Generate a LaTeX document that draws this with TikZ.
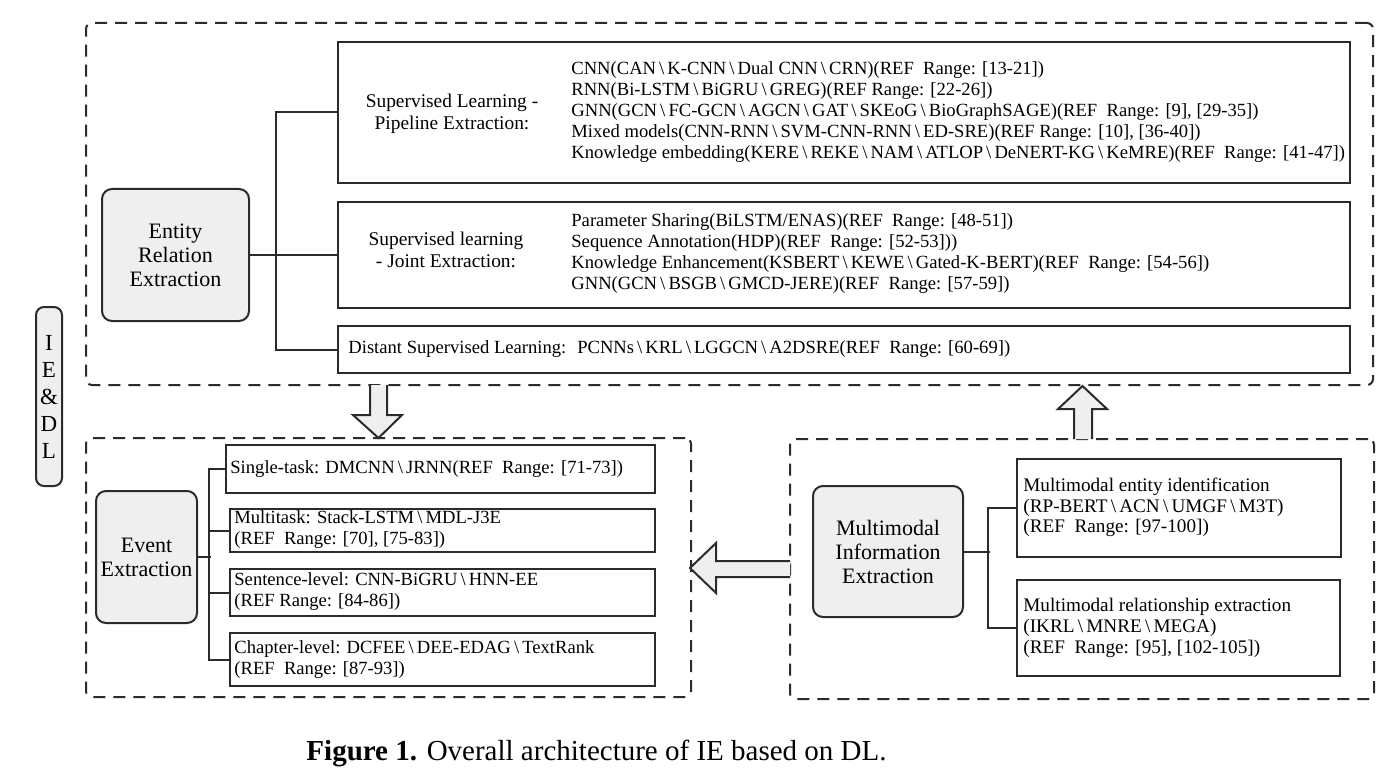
\documentclass[tikz,border=0pt]{standalone}
\usepackage{fontspec}
\setmainfont{Liberation Serif}

\definecolor{boxfill}{HTML}{EFEFEF}
\definecolor{linecol}{HTML}{2B2B2B}

\tikzstyle{group} = [draw=linecol, line width=1pt, dash pattern=on 6pt off 4pt, rounded corners=3pt, inner sep=0pt]
\tikzstyle{topic} = [draw=linecol, fill=boxfill, line width=1pt, rounded corners=5pt, align=center, inner sep=0pt, font=\fontsize{11}{12}\selectfont]
\tikzstyle{leaf} = [draw=linecol, line width=1pt, inner sep=0pt]
\tikzstyle{items} = [align=left, anchor=west, inner sep=0pt, font=\fontsize{9.3}{10.5}\selectfont]
\tikzstyle{mmitems} = [items, font=\fontsize{9.6}{10.4}\selectfont]
\tikzstyle{lbl} = [align=center, inner sep=0pt, font=\fontsize{9.7}{11}\selectfont]
\tikzstyle{link} = [draw=linecol, line width=1pt]
\tikzstyle{hollow} = [draw=linecol, fill=boxfill, line width=1pt]

\newcommand{\bs}{\,\textbackslash\,}

\begin{document}
\begin{tikzpicture}[x=0.5pt, y=-0.5pt]
\useasboundingbox (0,0) rectangle (1383,781);

% relation extraction part
\node[group, minimum width=643.5pt, minimum height=181pt] (reg) at (729.5,204) {};
\node[topic, minimum width=73.5pt, minimum height=66pt] (ere) at (175.5,255) {Entity\\Relation\\Extraction};
\node[leaf, minimum width=506pt, minimum height=70.5pt] (pipe) at (844,112.5) {};
\node[leaf, minimum width=506pt, minimum height=53pt] (joint) at (844,255) {};
\node[leaf, minimum width=506pt, minimum height=23.5pt] (dist) at (844,349.5) {};
\node[lbl] (pipelbl) at (452,114) {Supervised Learning -\\Pipeline Extraction:};
\node[items] (pipetxt) at (571,112.5) {CNN(CAN\bs K-CNN\bs Dual CNN\bs CRN)(REF~ Range: [13-21])\\
    RNN(Bi-LSTM\bs BiGRU\bs GREG)(REF Range: [22-26])\\
    GNN(GCN\bs FC-GCN\bs AGCN\bs GAT\bs SKEoG\bs BioGraphSAGE)(REF~ Range: [9], [29-35])\\
    Mixed models(CNN-RNN\bs SVM-CNN-RNN\bs ED-SRE)(REF Range: [10], [36-40])\\
    Knowledge embedding(KERE\bs REKE\bs NAM\bs ATLOP\bs DeNERT-KG\bs KeMRE)(REF~ Range: [41-47])};
\node[lbl] (jointlbl) at (446,249.5) {Supervised learning\\- Joint Extraction:};
\node[items] (jointtxt) at (571,253.5) {Parameter Sharing(BiLSTM/ENAS)(REF~ Range: [48-51])\\
    Sequence Annotation(HDP)(REF~ Range: [52-53]))\\
    Knowledge Enhancement(KSBERT\bs KEWE\bs Gated-K-BERT)(REF~ Range: [54-56])\\
    GNN(GCN\bs BSGB\bs GMCD-JERE)(REF~ Range: [57-59])};
\node[items] (disttxt) at (348,349) {Distant Supervised Learning:~ PCNNs\bs KRL\bs LGGCN\bs A2DSRE(REF~ Range: [60-69])};
\draw[link] (ere.east) -- (joint.west);
\draw[link] (pipe.west) -- ++(-61,0) |- (dist.west);

% side label
\node[topic, minimum width=13pt, minimum height=89.5pt, rounded corners=4pt, font=\fontsize{11.5}{13.5}\selectfont] (iedl) at (49,396.5) {I\\E\\\&\\D\\L};

% event extraction part
\node[group, minimum width=302.5pt, minimum height=129.5pt] (evg) at (388.5,567.5) {};
\node[topic, minimum width=50.5pt, minimum height=66pt] (ee) at (146.5,557) {Event\\Extraction};
\node[leaf, minimum width=214.5pt, minimum height=24pt] (single) at (440.5,469) {};
\node[leaf, minimum width=212.5pt, minimum height=21.5pt] (multi) at (442.5,530.5) {};
\node[leaf, minimum width=212.5pt, minimum height=23.5pt] (sent) at (442.5,592.5) {};
\node[leaf, minimum width=212.5pt, minimum height=26.5pt] (chap) at (442.5,659.5) {};
\node[items] (singletxt) at (230,469) {Single-task: DMCNN\bs JRNN(REF~ Range: [71-73])};
\node[items] (multitxt) at (234,530) {Multitask: Stack-LSTM\bs MDL-J3E\\(REF~ Range: [70], [75-83])};
\node[items] (senttxt) at (234,591.5) {Sentence-level: CNN-BiGRU\bs HNN-EE\\(REF Range: [84-86])};
\node[items] (chaptxt) at (234,659.5) {Chapter-level: DCFEE\bs DEE-EDAG\bs TextRank\\(REF~ Range: [87-93])};
\draw[link] (ee.east) -- ++(13,0);
\draw[link] (single.west) -- ++(-16,0) |- (chap.west);
\draw[link] (multi.west) -- ++(-20,0);
\draw[link] (sent.west) -- ++(-20,0);

% multimodal part
\node[group, minimum width=292pt, minimum height=130pt] (mmg) at (1082,569) {};
\node[topic, minimum width=75pt, minimum height=65.5pt] (mm) at (888,551.5) {Multimodal\\Information\\Extraction};
\node[leaf, minimum width=162pt, minimum height=49pt] (mment) at (1179,508) {};
\node[leaf, minimum width=161.5pt, minimum height=48pt] (mmrel) at (1178.5,628) {};
\node[mmitems] (mmenttxt) at (1023,507.5) {Multimodal entity identification\\(RP-BERT\bs ACN\bs UMGF\bs M3T)\\(REF~ Range: [97-100])};
\node[mmitems] (mmreltxt) at (1023,628) {Multimodal relationship extraction\\(IKRL\bs MNRE\bs MEGA)\\(REF~ Range: [95], [102-105])};
\draw[link] (mm.east) -- ++(26,0);
\draw[link] (mment.west) -- ++(-28,0) |- (mmrel.west);

% block arrows
\draw[hollow] (370,385) -- (370,415) -- (353,415) -- (378.5,438) -- (402,415) -- (387,415) -- (387,385);
\draw[hollow] (1074,439) -- (1074,409) -- (1058,409) -- (1082.5,386) -- (1107,409) -- (1092,409) -- (1092,439);
\draw[hollow] (790,561) -- (716,561) -- (716,543) -- (690,568) -- (716,593) -- (716,577) -- (790,577);

% caption
\node[font=\fontsize{14.5}{16}\selectfont] (cap) at (596.5,753) {\textbf{Figure 1.} Overall architecture of IE based on DL.};
\end{tikzpicture}
\end{document}
